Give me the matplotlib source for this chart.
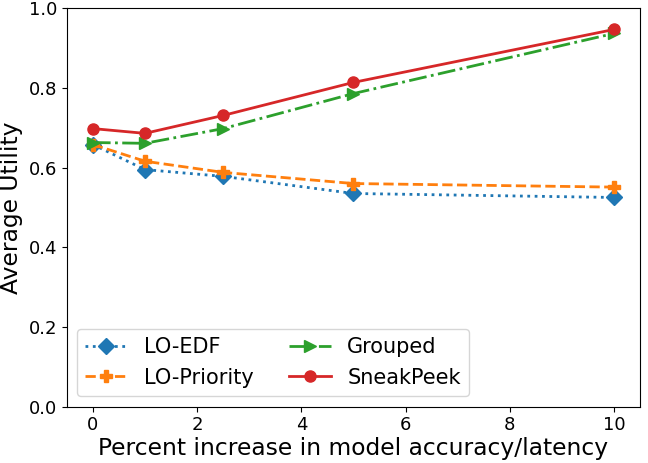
import matplotlib
matplotlib.use("Agg")
import matplotlib.pyplot as plt

x = [0, 1, 2.5, 5, 10]
lo_edf = [0.658, 0.595, 0.578, 0.535, 0.525]
lo_priority = [0.658, 0.616, 0.588, 0.560, 0.551]
grouped = [0.663, 0.661, 0.698, 0.786, 0.937]
sneakpeek = [0.698, 0.686, 0.731, 0.814, 0.947]

fig, ax = plt.subplots(figsize=(6.48, 4.63), dpi=100)
ax.plot(x, lo_edf, linestyle=':', marker='D', color='#1f77b4', lw=2, ms=8, label='LO-EDF')
ax.plot(x, lo_priority, linestyle='--', marker='P', color='#ff7f0e', lw=2, ms=9, label='LO-Priority')
ax.plot(x, grouped, linestyle='-.', marker='>', color='#2ca02c', lw=2, ms=9, label='Grouped')
ax.plot(x, sneakpeek, linestyle='-', marker='o', color='#d62728', lw=2, ms=8, label='SneakPeek')
ax.set_ylim(0, 1.0)
ax.set_xlabel('Percent increase in model accuracy/latency', fontsize=16.8, labelpad=2)
ax.set_ylabel('Average Utility', fontsize=16.8, labelpad=4)
ax.tick_params(labelsize=13)
ax.legend(ncol=2, fontsize=15, loc='lower left', columnspacing=1.7)
fig.subplots_adjust(left=0.103, right=0.988, top=0.982, bottom=0.122)
fig.savefig('out.png', dpi=100)
